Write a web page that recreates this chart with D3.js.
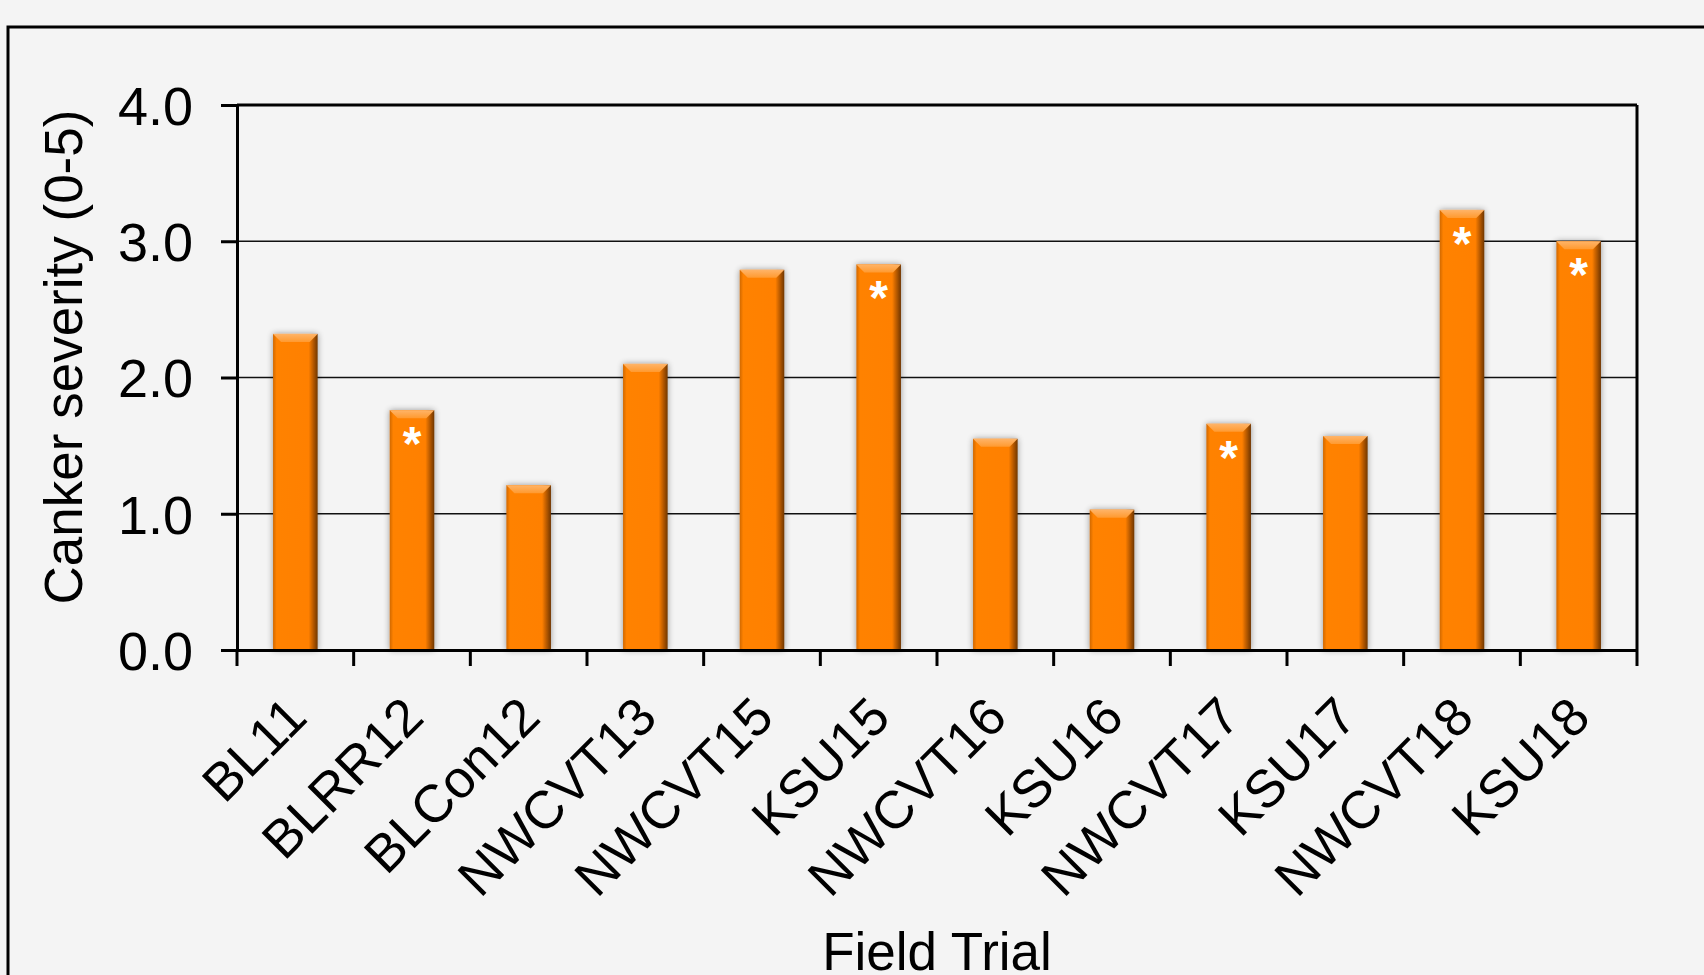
<!DOCTYPE html>
<html>
<head>
<meta charset="utf-8">
<script src="https://cdn.jsdelivr.net/npm/d3@7"></script>
<style>
  html, body { margin: 0; padding: 0; background: #f4f4f4; }
  svg { display: block; }
  text { font-family: "Liberation Sans", Arial, sans-serif; fill: #000; }
</style>
</head>
<body>
<svg id="chart" width="1704" height="975"></svg>
<script>
const categories = ["BL11", "BLRR12", "BLCon12", "NWCVT13", "NWCVT15", "KSU15",
                    "NWCVT16", "KSU16", "NWCVT17", "KSU17", "NWCVT18", "KSU18"];
const severity = [2.32, 1.76, 1.21, 2.10, 2.79, 2.83, 1.55, 1.03, 1.66, 1.57, 3.23, 3.00];
const significant = [false, true, false, false, false, true, false, false, true, false, true, true];
const yTicks = [0, 1, 2, 3, 4];
const yTitle = "Canker severity (0-5)";
const xTitle = "Field Trial";

const W = 1704, H = 975;
const plot = { left: 237, right: 1637, top: 105, bottom: 650 };
const svg = d3.select("#chart");

svg.append("rect").attr("width", W).attr("height", H).attr("fill", "#f4f4f4");

// outer frame
svg.append("rect").attr("x", 8).attr("y", 27).attr("width", W + 20).attr("height", H + 20)
  .attr("fill", "none").attr("stroke", "#000").attr("stroke-width", 3);

const x = d3.scaleBand().domain(categories).range([plot.left, plot.right]).padding(0);
const y = d3.scaleLinear().domain([0, 4]).range([plot.bottom, plot.top]);

const defs = svg.append("defs");
const g1 = defs.append("linearGradient").attr("id", "barGrad").attr("x1", "0").attr("x2", "1").attr("y1", "0").attr("y2", "0");
g1.append("stop").attr("offset", "0").attr("stop-color", "#d06800");
g1.append("stop").attr("offset", "0.08").attr("stop-color", "#ff8200");
g1.append("stop").attr("offset", "0.80").attr("stop-color", "#ff8000");
g1.append("stop").attr("offset", "0.90").attr("stop-color", "#b85a00");
g1.append("stop").attr("offset", "1").attr("stop-color", "#703600");
const g2 = defs.append("linearGradient").attr("id", "bevelGrad").attr("x1", "0").attr("x2", "0").attr("y1", "0").attr("y2", "1");
g2.append("stop").attr("offset", "0").attr("stop-color", "#ffb468");
g2.append("stop").attr("offset", "1").attr("stop-color", "#ff9a30");
const f = defs.append("filter").attr("id", "shadow").attr("x", "-30%").attr("y", "-10%").attr("width", "160%").attr("height", "120%");
f.append("feGaussianBlur").attr("in", "SourceAlpha").attr("stdDeviation", 3).attr("result", "b");
f.append("feOffset").attr("in", "b").attr("dx", 0).attr("dy", 0).attr("result", "o");
f.append("feComponentTransfer").attr("in", "o").attr("result", "s")
  .append("feFuncA").attr("type", "linear").attr("slope", 0.4);
const fm = f.append("feMerge");
fm.append("feMergeNode").attr("in", "s");
fm.append("feMergeNode").attr("in", "SourceGraphic");

// gridlines
svg.append("g").selectAll("line").data(yTicks.filter(d => d > 0 && d < 4)).join("line")
  .attr("x1", plot.left).attr("x2", plot.right)
  .attr("y1", d => y(d)).attr("y2", d => y(d))
  .attr("stroke", "#111").attr("stroke-width", 1.6);

// bars
const barFrac = 0.382;
const bw = x.bandwidth() * barFrac;
const bars = svg.append("g").selectAll("g").data(categories).join("g");
bars.append("rect")
  .attr("x", (d) => x(d) + (x.bandwidth() - bw) / 2)
  .attr("y", (d, i) => y(severity[i]))
  .attr("width", bw)
  .attr("height", (d, i) => y(0) - y(severity[i]))
  .attr("fill", "url(#barGrad)")
  .attr("filter", "url(#shadow)");
bars.append("path")
  .attr("d", (d, i) => {
    const x0 = x(d) + (x.bandwidth() - bw) / 2, x1 = x0 + bw, t = y(severity[i]);
    return d3.line()([[x0, t], [x1, t], [x1 - 8, t + 8], [x0 + 8, t + 8]]) + "Z";
  })
  .attr("fill", "url(#bevelGrad)");

// asterisks
svg.append("g").selectAll("text").data(categories.filter((d, i) => significant[i])).join("text")
  .attr("x", d => x(d) + x.bandwidth() / 2)
  .attr("y", d => y(severity[categories.indexOf(d)]) + 50)
  .attr("text-anchor", "middle")
  .style("fill", "#fff").style("font-size", "48px").style("font-weight", "bold")
  .text("*");

// plot frame (top/right)
svg.append("line").attr("x1", plot.left).attr("x2", plot.right).attr("y1", plot.top).attr("y2", plot.top)
  .attr("stroke", "#000").attr("stroke-width", 3);
svg.append("line").attr("x1", plot.right).attr("x2", plot.right).attr("y1", plot.top).attr("y2", plot.bottom)
  .attr("stroke", "#000").attr("stroke-width", 3);

// y axis
const yAxis = d3.axisLeft(y).tickValues(yTicks).tickFormat(d3.format(".1f")).tickSize(16).tickPadding(28);
const ya = svg.append("g").attr("transform", `translate(${plot.left},0)`).call(yAxis);
ya.select(".domain").attr("stroke", "#000").attr("stroke-width", 3);
ya.selectAll(".tick line").attr("stroke", "#000").attr("stroke-width", 3);
ya.selectAll(".tick text").style("font-size", "54px").attr("dy", "0.36em").style("font-family", "'Liberation Sans', Arial, sans-serif");

// x axis
const xa = svg.append("g").attr("transform", `translate(0,${plot.bottom})`)
  .call(d3.axisBottom(x).tickSize(0).tickFormat(""));
xa.select(".domain").attr("stroke", "#000").attr("stroke-width", 3);
const bounds = categories.map(d => x(d)).concat([plot.right]);
xa.append("g").selectAll("line").data(bounds).join("line")
  .attr("x1", d => d).attr("x2", d => d).attr("y1", 0).attr("y2", 16)
  .attr("stroke", "#000").attr("stroke-width", 3);

svg.append("g").selectAll("text").data(categories).join("text")
  .attr("transform", d => `translate(${x(d) + x.bandwidth() / 2 + 14},${plot.bottom + 70}) rotate(-45)`)
  .attr("text-anchor", "end")
  .style("font-size", "53px")
  .text(d => d);

// titles
svg.append("text").attr("transform", `translate(82,357) rotate(-90)`)
  .attr("text-anchor", "middle").style("font-size", "53px").text(yTitle);
svg.append("text").attr("x", (plot.left + plot.right) / 2).attr("y", 970)
  .attr("text-anchor", "middle").style("font-size", "53px").text(xTitle);
</script>
</body>
</html>
